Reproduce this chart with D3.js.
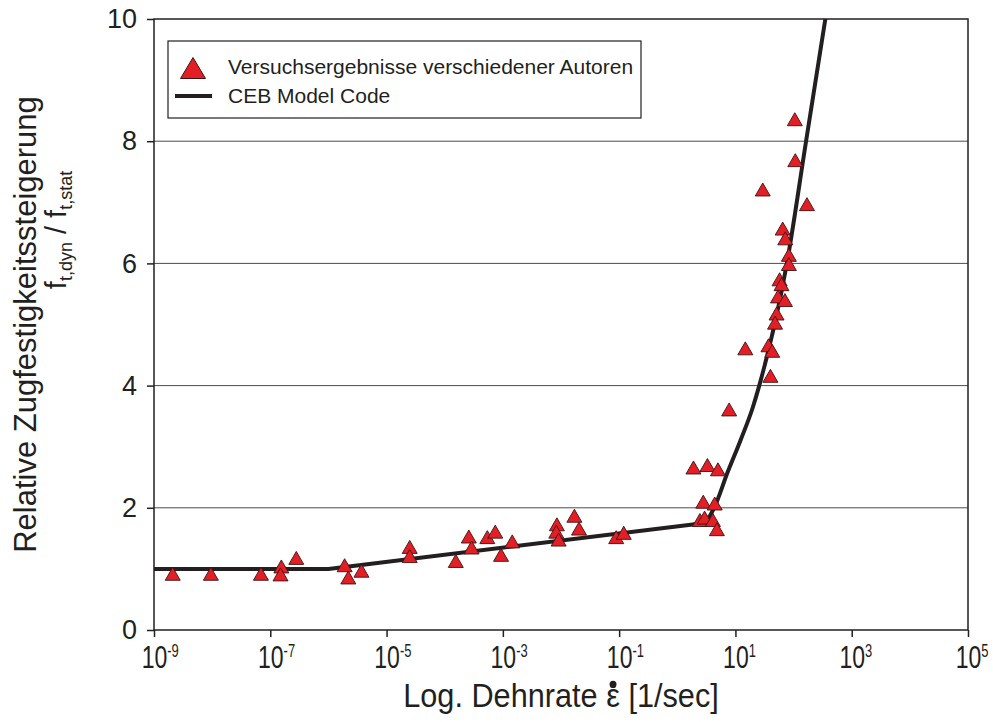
<!DOCTYPE html>
<html>
<head>
<meta charset="utf-8">
<script src="https://cdn.jsdelivr.net/npm/d3@7"></script>
<style>
  body { margin: 0; background: #fff; }
  text { font-family: "Liberation Sans", Arial, sans-serif; fill: #231f20; }
</style>
</head>
<body>
<div id="my_chart"></div>
<script>
// measured points (strain rate in 1/sec, relative tensile strength)
const testRates = [
  2.1e-9, 9.5e-9, 6.9e-8, 1.55e-7, 1.5e-7, 2.8e-7,
  1.9e-6, 2.2e-6, 3.7e-6, 2.5e-5, 2.5e-5, 1.55e-4, 2.6e-4, 2.9e-4, 5.4e-4, 7.4e-4, 9.3e-4, 1.45e-3,
  8.5e-3, 8.3e-3, 9.1e-3, 0.017, 0.0204, 0.089, 0.12,
  1.9, 3.3, 5.0, 2.8, 4.4, 2.45, 2.95, 4.1, 4.8,
  105, 107, 29.5, 170, 65, 72, 83, 83, 57.5, 62, 54, 71, 51, 48, 37, 43, 14.8, 40, 7.8
];
const testValues = [
  0.92, 0.92, 0.92, 1.04, 0.91, 1.18,
  1.06, 0.86, 0.97, 1.36, 1.21, 1.13, 1.53, 1.35, 1.52, 1.61, 1.23, 1.45,
  1.73, 1.61, 1.48, 1.87, 1.66, 1.52, 1.59,
  2.66, 2.70, 2.63, 2.10, 2.07, 1.80, 1.84, 1.80, 1.65,
  8.36, 7.69, 7.21, 6.97, 6.57, 6.41, 6.14, 5.99, 5.74, 5.66, 5.46, 5.40, 5.18, 5.03, 4.66, 4.57, 4.61, 4.16, 3.61
];

// CEB Model Code curve
// straight part (1e-9 .. bend) and curved part (bend .. top)
const ceb_rates = [1e-9, 1e-6, 2.0, 3.2, 4.4, 7.2, 12.3, 20, 25.7, 76.7, 164, 352];
const ceb_values = [1.0, 1.0, 1.73, 1.80, 2.02, 2.56, 3.11, 3.65, 4.0, 6.0, 8.0, 10.0];
const cebBendIndex = 2;

const xTicks = [1e-9, 1e-7, 1e-5, 1e-3, 1e-1, 1e1, 1e3, 1e5];
const xTickExp = ["-9", "-7", "-5", "-3", "-1", "1", "3", "5"];
const yTicks = [0, 2, 4, 6, 8, 10];
const gridValues = [2, 4, 6, 8];

const points = testRates.map((r, i) => ({ rate: r, value: testValues[i] }));
const curve = ceb_rates.map((r, i) => ({ rate: r, value: ceb_values[i] }));

// set the dimensions and margins of the chart
const margin = { top: 19, right: 25, bottom: 92, left: 154 },
    width = 993 - margin.left - margin.right,
    height = 722 - margin.top - margin.bottom;

const root = d3.select("#my_chart")
    .append("svg")
    .attr("width", 993)
    .attr("height", 722);

const svg = root.append("g")
    .attr("transform", `translate(${margin.left},${margin.top})`);

const x = d3.scaleLog()
    .domain([1e-9, 1e5])
    .range([0, width]);

const y = d3.scaleLinear()
    .domain([0, 10])
    .range([height, 0]);

svg.append("clipPath").attr("id", "clip")
    .append("rect").attr("width", width).attr("height", height);

// grid lines
svg.selectAll(".grid")
    .data(gridValues)
    .join("line")
    .attr("x1", 0).attr("x2", width)
    .attr("y1", d => y(d)).attr("y2", d => y(d))
    .attr("stroke", "#4d4d4d")
    .attr("stroke-width", 1);

// X axis (narrow labels like the original)
const xAxis = svg.append("g")
    .attr("transform", `translate(0,${height})`)
    .call(d3.axisBottom(x).tickValues(xTicks).tickSize(7).tickPadding(8).tickFormat(""));
xAxis.selectAll(".tick text")
    .style("font-size", "32px")
    .attr("text-anchor", "start")
    .attr("x", -17.8)
    .attr("transform", "scale(0.72,1)")
    .each(function(d, i) {
        const t = d3.select(this);
        t.append("tspan").text("10");
        t.append("tspan").attr("dy", "-0.62em").style("font-size", "18px").text(xTickExp[i]);
    });

// Y axis
svg.append("g")
    .call(d3.axisLeft(y).tickValues(yTicks).tickSize(7).tickPadding(10))
    .selectAll(".tick text")
    .style("font-size", "27px");

svg.selectAll(".domain").remove();
svg.selectAll(".tick line").attr("stroke", "#231f20").attr("stroke-width", 1.5);

// frame
svg.append("rect")
    .attr("width", width).attr("height", height)
    .attr("fill", "none")
    .attr("stroke", "#231f20")
    .attr("stroke-width", 1.5);

// CEB curve
const cebLine = svg.append("g").attr("clip-path", "url(#clip)");
cebLine.append("path")
    .datum(curve.slice(0, cebBendIndex + 1))
    .attr("fill", "none")
    .attr("stroke", "#231f20")
    .attr("stroke-width", 4)
    .attr("stroke-linejoin", "round")
    .attr("d", d3.line().x(d => x(d.rate)).y(d => y(d.value)));
cebLine.append("path")
    .datum(curve.slice(cebBendIndex))
    .attr("fill", "none")
    .attr("stroke", "#231f20")
    .attr("stroke-width", 4)
    .attr("stroke-linecap", "round")
    .attr("d", d3.line().x(d => x(d.rate)).y(d => y(d.value)).curve(d3.curveMonotoneX));

// test results
const tri = (w, h) => `M0,${-h / 2}L${w / 2},${h / 2}L${-w / 2},${h / 2}Z`;
svg.selectAll(".pt")
    .data(points)
    .join("path")
    .attr("transform", d => `translate(${x(d.rate)},${y(d.value)})`)
    .attr("d", tri(15, 13))
    .attr("fill", "#e31e24")
    .attr("stroke", "#3b1416")
    .attr("stroke-width", 0.9);

// legend
const lg = svg.append("g").attr("transform", "translate(14,22)");
lg.append("rect")
    .attr("width", 473).attr("height", 77)
    .attr("fill", "#fff").attr("stroke", "#231f20").attr("stroke-width", 1.2);
lg.append("path")
    .attr("transform", "translate(25,27)")
    .attr("d", tri(25, 21))
    .attr("fill", "#e31e24").attr("stroke", "#3b1416").attr("stroke-width", 1);
lg.append("line")
    .attr("x1", 7).attr("x2", 44).attr("y1", 55).attr("y2", 55)
    .attr("stroke", "#231f20").attr("stroke-width", 4);
lg.append("text").attr("x", 60).attr("y", 33).style("font-size", "21px")
    .text("Versuchsergebnisse verschiedener Autoren");
lg.append("text").attr("x", 60).attr("y", 62).style("font-size", "21px")
    .text("CEB Model Code");

// x axis title
const xtg = root.append("g")
    .attr("transform", `translate(${margin.left + width / 2},707) scale(0.93,1)`);
const xt = xtg.append("text")
    .attr("text-anchor", "middle")
    .style("font-size", "33px")
    .text("Log. Dehnrate ε [1/sec]");
const epsIdx = "Log. Dehnrate ".length;
const ext = xt.node().getExtentOfChar(epsIdx);
xtg.append("circle")
    .attr("cx", ext.x + ext.width / 2)
    .attr("cy", ext.y + ext.height * 0.2)
    .attr("r", 3.7)
    .attr("fill", "#231f20");

// y axis title
root.append("text")
    .attr("transform", `translate(36,${margin.top + height / 2}) rotate(-90)`)
    .attr("text-anchor", "middle")
    .style("font-size", "31px")
    .text("Relative Zugfestigkeitssteigerung");

const yt2 = root.append("text")
    .attr("transform", `translate(66,230) rotate(-90)`)
    .attr("text-anchor", "middle")
    .style("font-size", "29px");
yt2.append("tspan").text("f");
yt2.append("tspan").attr("dy", 6).style("font-size", "18px").text("t,dyn");
yt2.append("tspan").attr("dy", -6).text("  /  f");
yt2.append("tspan").attr("dy", 6).style("font-size", "18px").text("t,stat");
</script>
</body>
</html>
